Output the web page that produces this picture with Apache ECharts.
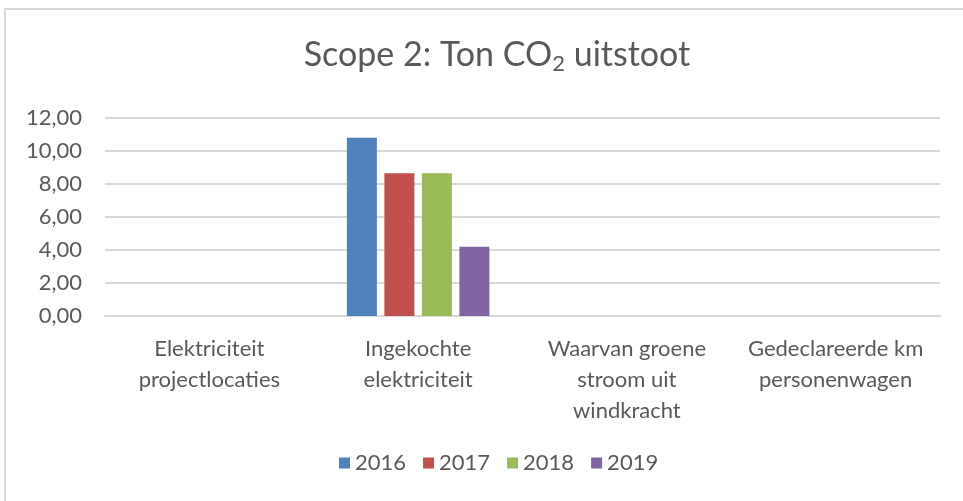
<!DOCTYPE html>
<html>
<head>
<meta charset="utf-8">
<script src="https://cdn.jsdelivr.net/npm/echarts@6/dist/echarts.min.js"></script>
<style>
  html, body { margin: 0; padding: 0; background: #fff; }
  #box { position: absolute; left: 4px; top: 8px; width: 970px; height: 500px; border: 2px solid #d9d9d9; box-sizing: border-box; }
  #chart { position: absolute; left: 0; top: 0; width: 963px; height: 501px; }
</style>
</head>
<body>
<div id="box"></div>
<div id="chart"></div>
<script>
// categorieën op de x-as
const categories = [
  'Elektriciteit\nprojectlocaties',
  'Ingekochte\nelektriciteit',
  'Waarvan groene\nstroom uit\nwindkracht',
  'Gedeclareerde km\npersonenwagen'
]
const years = ['2016', '2017', '2018', '2019']
// waarden per jaar (ton CO2)
const values2016 = [null, 10.8, null, null]
const values2017 = [null, 8.65, null, null]
const values2018 = [null, 8.65, null, null]
const values2019 = [null, 4.2, null, null]
const colors = ['#4f81bd', '#c0504d', '#9bbb59', '#8064a2']

const font = 'Lato, "Open Sans", sans-serif'
const chart = echarts.init(document.getElementById('chart'))

const allValues = [values2016, values2017, values2018, values2019]
const seriesArr = years.map((y, i) => ({
  name: y,
  type: 'bar',
  data: allValues[i],
  barWidth: 30,
  barGap: '25%',
  itemStyle: { color: colors[i] }
}))

chart.setOption({
  animation: false,
  title: {
    text: 'Scope 2: Ton CO{sub|2} uitstoot',
    left: 492,
    textAlign: 'center',
    top: 30,
    textStyle: {
      fontFamily: font,
      fontSize: 34,
      fontWeight: 'normal',
      color: '#595959',
      rich: {
        sub: { fontFamily: font, fontSize: 22, color: '#595959', verticalAlign: 'bottom', padding: [18, 0, 0, 0] }
      }
    }
  },
  grid: {
    left: 105,
    right: 23,
    top: 118,
    height: 198
  },
  legend: {
    bottom: 22,
    left: 334,
    icon: 'rect',
    itemWidth: 11,
    itemHeight: 11,
    itemGap: 17,
    textStyle: { fontFamily: font, fontSize: 22, color: '#595959' },
    data: years
  },
  xAxis: {
    type: 'category',
    data: categories,
    axisLine: { lineStyle: { color: '#d9d9d9', width: 2 } },
    axisTick: { show: false },
    axisLabel: {
      interval: 0,
      margin: 17,
      fontFamily: font,
      fontSize: 22,
      lineHeight: 31,
      color: '#595959'
    }
  },
  yAxis: {
    type: 'value',
    min: 0,
    max: 12,
    interval: 2,
    axisLine: { show: false },
    axisTick: { show: false },
    splitLine: { lineStyle: { color: '#d9d9d9', width: 2 } },
    axisLabel: {
      margin: 23,
      fontFamily: font,
      fontSize: 22,
      color: '#595959',
      formatter: v => v.toFixed(2).replace('.', ',')
    }
  },
  series: seriesArr
})
</script>
</body>
</html>
